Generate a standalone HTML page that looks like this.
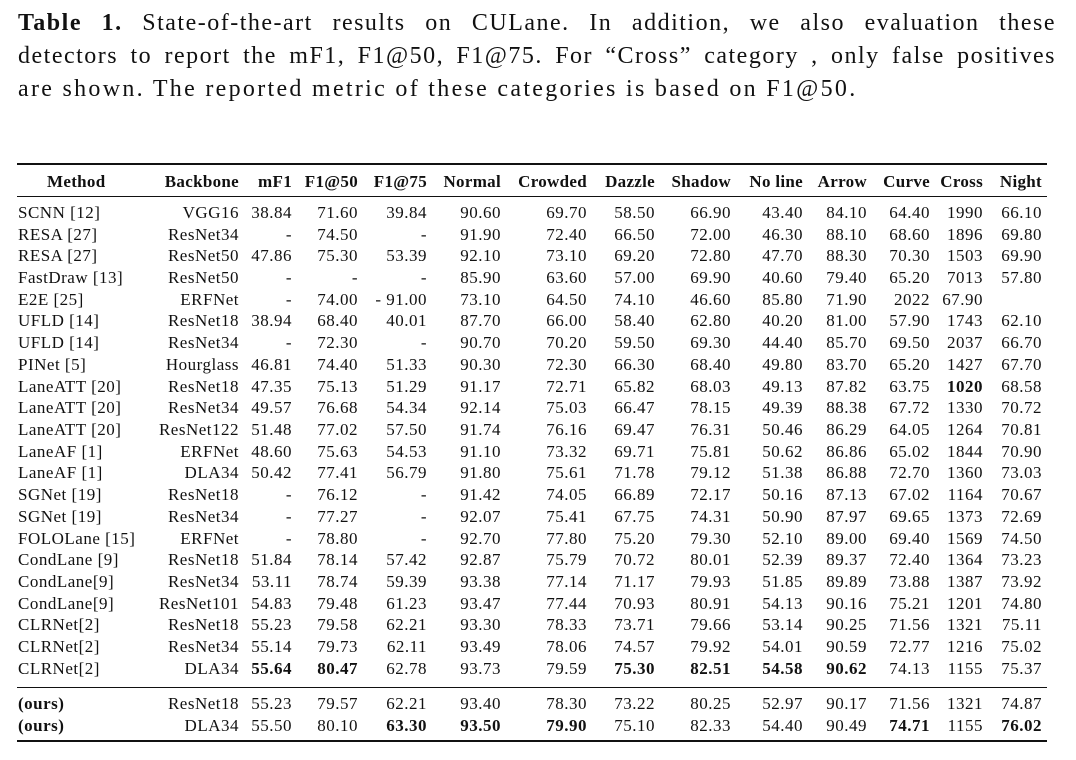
<!DOCTYPE html>
<html><head><meta charset="utf-8"><style>
body{margin:0;background:#fff;width:1076px;height:760px;position:relative;overflow:hidden;font-family:"Liberation Serif",serif;color:#111}
.cap{position:absolute;left:18px;width:1038px;font-size:24px;line-height:30px;letter-spacing:1.5px;text-align:justify;text-align-last:justify;white-space:nowrap}
.cap.l{text-align-last:left;letter-spacing:2.3px}
.rule{position:absolute;left:17px;width:1030px;background:#111}
.r{position:absolute;left:0;width:1076px;height:18px;font-size:17px;line-height:18px;letter-spacing:0.5px}
.r span{position:absolute;top:0;white-space:nowrap}
.m{left:18px}
.bb{right:837px}.mf{right:784px}.f5{right:718px}.f7{right:649px}.no{right:575px}.cr{right:489px}.da{right:421px}.sh{right:345px}.nl{right:273px}.ar{right:209px}.cu{right:146px}.cs{right:93px}.ni{right:34px}
.h{font-weight:bold;letter-spacing:0.3px}
.h .m{left:47px}
b{font-weight:bold}
</style></head><body>
<div class="cap" style="top:8px"><b>Table 1.</b> State-of-the-art results on CULane. In addition, we also evaluation these</div>
<div class="cap" style="top:41px">detectors to report the mF1, F1@50, F1@75. For “Cross” category , only false positives</div>
<div class="cap l" style="top:74px">are shown. The reported metric of these categories is based on F1@50.</div>

<div class="rule" style="top:163px;height:2px"></div>
<div class="r h" style="top:173px"><span class="m">Method</span><span class="bb">Backbone</span><span class="mf">mF1</span><span class="f5">F1@50</span><span class="f7">F1@75</span><span class="no">Normal</span><span class="cr">Crowded</span><span class="da">Dazzle</span><span class="sh">Shadow</span><span class="nl">No line</span><span class="ar">Arrow</span><span class="cu">Curve</span><span class="cs">Cross</span><span class="ni">Night</span></div>
<div class="rule" style="top:196px;height:1px"></div>

<div class="r" style="top:204px"><span class="m">SCNN [12]</span><span class="bb">VGG16</span><span class="mf">38.84</span><span class="f5">71.60</span><span class="f7">39.84</span><span class="no">90.60</span><span class="cr">69.70</span><span class="da">58.50</span><span class="sh">66.90</span><span class="nl">43.40</span><span class="ar">84.10</span><span class="cu">64.40</span><span class="cs">1990</span><span class="ni">66.10</span></div>
<div class="r" style="top:226px"><span class="m">RESA [27]</span><span class="bb">ResNet34</span><span class="mf">-</span><span class="f5">74.50</span><span class="f7">-</span><span class="no">91.90</span><span class="cr">72.40</span><span class="da">66.50</span><span class="sh">72.00</span><span class="nl">46.30</span><span class="ar">88.10</span><span class="cu">68.60</span><span class="cs">1896</span><span class="ni">69.80</span></div>
<div class="r" style="top:247px"><span class="m">RESA [27]</span><span class="bb">ResNet50</span><span class="mf">47.86</span><span class="f5">75.30</span><span class="f7">53.39</span><span class="no">92.10</span><span class="cr">73.10</span><span class="da">69.20</span><span class="sh">72.80</span><span class="nl">47.70</span><span class="ar">88.30</span><span class="cu">70.30</span><span class="cs">1503</span><span class="ni">69.90</span></div>
<div class="r" style="top:269px"><span class="m">FastDraw [13]</span><span class="bb">ResNet50</span><span class="mf">-</span><span class="f5">-</span><span class="f7">-</span><span class="no">85.90</span><span class="cr">63.60</span><span class="da">57.00</span><span class="sh">69.90</span><span class="nl">40.60</span><span class="ar">79.40</span><span class="cu">65.20</span><span class="cs">7013</span><span class="ni">57.80</span></div>
<div class="r" style="top:291px"><span class="m">E2E [25]</span><span class="bb">ERFNet</span><span class="mf">-</span><span class="f5">74.00</span><span class="f7">- 91.00</span><span class="no">73.10</span><span class="cr">64.50</span><span class="da">74.10</span><span class="sh">46.60</span><span class="nl">85.80</span><span class="ar">71.90</span><span class="cu">2022</span><span class="cs">67.90</span></div>
<div class="r" style="top:312px"><span class="m">UFLD [14]</span><span class="bb">ResNet18</span><span class="mf">38.94</span><span class="f5">68.40</span><span class="f7">40.01</span><span class="no">87.70</span><span class="cr">66.00</span><span class="da">58.40</span><span class="sh">62.80</span><span class="nl">40.20</span><span class="ar">81.00</span><span class="cu">57.90</span><span class="cs">1743</span><span class="ni">62.10</span></div>
<div class="r" style="top:334px"><span class="m">UFLD [14]</span><span class="bb">ResNet34</span><span class="mf">-</span><span class="f5">72.30</span><span class="f7">-</span><span class="no">90.70</span><span class="cr">70.20</span><span class="da">59.50</span><span class="sh">69.30</span><span class="nl">44.40</span><span class="ar">85.70</span><span class="cu">69.50</span><span class="cs">2037</span><span class="ni">66.70</span></div>
<div class="r" style="top:356px"><span class="m">PINet [5]</span><span class="bb">Hourglass</span><span class="mf">46.81</span><span class="f5">74.40</span><span class="f7">51.33</span><span class="no">90.30</span><span class="cr">72.30</span><span class="da">66.30</span><span class="sh">68.40</span><span class="nl">49.80</span><span class="ar">83.70</span><span class="cu">65.20</span><span class="cs">1427</span><span class="ni">67.70</span></div>
<div class="r" style="top:378px"><span class="m">LaneATT [20]</span><span class="bb">ResNet18</span><span class="mf">47.35</span><span class="f5">75.13</span><span class="f7">51.29</span><span class="no">91.17</span><span class="cr">72.71</span><span class="da">65.82</span><span class="sh">68.03</span><span class="nl">49.13</span><span class="ar">87.82</span><span class="cu">63.75</span><span class="cs"><b>1020</b></span><span class="ni">68.58</span></div>
<div class="r" style="top:399px"><span class="m">LaneATT [20]</span><span class="bb">ResNet34</span><span class="mf">49.57</span><span class="f5">76.68</span><span class="f7">54.34</span><span class="no">92.14</span><span class="cr">75.03</span><span class="da">66.47</span><span class="sh">78.15</span><span class="nl">49.39</span><span class="ar">88.38</span><span class="cu">67.72</span><span class="cs">1330</span><span class="ni">70.72</span></div>
<div class="r" style="top:421px"><span class="m">LaneATT [20]</span><span class="bb">ResNet122</span><span class="mf">51.48</span><span class="f5">77.02</span><span class="f7">57.50</span><span class="no">91.74</span><span class="cr">76.16</span><span class="da">69.47</span><span class="sh">76.31</span><span class="nl">50.46</span><span class="ar">86.29</span><span class="cu">64.05</span><span class="cs">1264</span><span class="ni">70.81</span></div>
<div class="r" style="top:443px"><span class="m">LaneAF [1]</span><span class="bb">ERFNet</span><span class="mf">48.60</span><span class="f5">75.63</span><span class="f7">54.53</span><span class="no">91.10</span><span class="cr">73.32</span><span class="da">69.71</span><span class="sh">75.81</span><span class="nl">50.62</span><span class="ar">86.86</span><span class="cu">65.02</span><span class="cs">1844</span><span class="ni">70.90</span></div>
<div class="r" style="top:464px"><span class="m">LaneAF [1]</span><span class="bb">DLA34</span><span class="mf">50.42</span><span class="f5">77.41</span><span class="f7">56.79</span><span class="no">91.80</span><span class="cr">75.61</span><span class="da">71.78</span><span class="sh">79.12</span><span class="nl">51.38</span><span class="ar">86.88</span><span class="cu">72.70</span><span class="cs">1360</span><span class="ni">73.03</span></div>
<div class="r" style="top:486px"><span class="m">SGNet [19]</span><span class="bb">ResNet18</span><span class="mf">-</span><span class="f5">76.12</span><span class="f7">-</span><span class="no">91.42</span><span class="cr">74.05</span><span class="da">66.89</span><span class="sh">72.17</span><span class="nl">50.16</span><span class="ar">87.13</span><span class="cu">67.02</span><span class="cs">1164</span><span class="ni">70.67</span></div>
<div class="r" style="top:508px"><span class="m">SGNet [19]</span><span class="bb">ResNet34</span><span class="mf">-</span><span class="f5">77.27</span><span class="f7">-</span><span class="no">92.07</span><span class="cr">75.41</span><span class="da">67.75</span><span class="sh">74.31</span><span class="nl">50.90</span><span class="ar">87.97</span><span class="cu">69.65</span><span class="cs">1373</span><span class="ni">72.69</span></div>
<div class="r" style="top:530px"><span class="m">FOLOLane [15]</span><span class="bb">ERFNet</span><span class="mf">-</span><span class="f5">78.80</span><span class="f7">-</span><span class="no">92.70</span><span class="cr">77.80</span><span class="da">75.20</span><span class="sh">79.30</span><span class="nl">52.10</span><span class="ar">89.00</span><span class="cu">69.40</span><span class="cs">1569</span><span class="ni">74.50</span></div>
<div class="r" style="top:551px"><span class="m">CondLane [9]</span><span class="bb">ResNet18</span><span class="mf">51.84</span><span class="f5">78.14</span><span class="f7">57.42</span><span class="no">92.87</span><span class="cr">75.79</span><span class="da">70.72</span><span class="sh">80.01</span><span class="nl">52.39</span><span class="ar">89.37</span><span class="cu">72.40</span><span class="cs">1364</span><span class="ni">73.23</span></div>
<div class="r" style="top:573px"><span class="m">CondLane[9]</span><span class="bb">ResNet34</span><span class="mf">53.11</span><span class="f5">78.74</span><span class="f7">59.39</span><span class="no">93.38</span><span class="cr">77.14</span><span class="da">71.17</span><span class="sh">79.93</span><span class="nl">51.85</span><span class="ar">89.89</span><span class="cu">73.88</span><span class="cs">1387</span><span class="ni">73.92</span></div>
<div class="r" style="top:595px"><span class="m">CondLane[9]</span><span class="bb">ResNet101</span><span class="mf">54.83</span><span class="f5">79.48</span><span class="f7">61.23</span><span class="no">93.47</span><span class="cr">77.44</span><span class="da">70.93</span><span class="sh">80.91</span><span class="nl">54.13</span><span class="ar">90.16</span><span class="cu">75.21</span><span class="cs">1201</span><span class="ni">74.80</span></div>
<div class="r" style="top:616px"><span class="m">CLRNet[2]</span><span class="bb">ResNet18</span><span class="mf">55.23</span><span class="f5">79.58</span><span class="f7">62.21</span><span class="no">93.30</span><span class="cr">78.33</span><span class="da">73.71</span><span class="sh">79.66</span><span class="nl">53.14</span><span class="ar">90.25</span><span class="cu">71.56</span><span class="cs">1321</span><span class="ni">75.11</span></div>
<div class="r" style="top:638px"><span class="m">CLRNet[2]</span><span class="bb">ResNet34</span><span class="mf">55.14</span><span class="f5">79.73</span><span class="f7">62.11</span><span class="no">93.49</span><span class="cr">78.06</span><span class="da">74.57</span><span class="sh">79.92</span><span class="nl">54.01</span><span class="ar">90.59</span><span class="cu">72.77</span><span class="cs">1216</span><span class="ni">75.02</span></div>
<div class="r" style="top:660px"><span class="m">CLRNet[2]</span><span class="bb">DLA34</span><span class="mf"><b>55.64</b></span><span class="f5"><b>80.47</b></span><span class="f7">62.78</span><span class="no">93.73</span><span class="cr">79.59</span><span class="da"><b>75.30</b></span><span class="sh"><b>82.51</b></span><span class="nl"><b>54.58</b></span><span class="ar"><b>90.62</b></span><span class="cu">74.13</span><span class="cs">1155</span><span class="ni">75.37</span></div>

<div class="rule" style="top:687px;height:1px"></div>

<div class="r" style="top:695px"><span class="m"><b>(ours)</b></span><span class="bb">ResNet18</span><span class="mf">55.23</span><span class="f5">79.57</span><span class="f7">62.21</span><span class="no">93.40</span><span class="cr">78.30</span><span class="da">73.22</span><span class="sh">80.25</span><span class="nl">52.97</span><span class="ar">90.17</span><span class="cu">71.56</span><span class="cs">1321</span><span class="ni">74.87</span></div>
<div class="r" style="top:717px"><span class="m"><b>(ours)</b></span><span class="bb">DLA34</span><span class="mf">55.50</span><span class="f5">80.10</span><span class="f7"><b>63.30</b></span><span class="no"><b>93.50</b></span><span class="cr"><b>79.90</b></span><span class="da">75.10</span><span class="sh">82.33</span><span class="nl">54.40</span><span class="ar">90.49</span><span class="cu"><b>74.71</b></span><span class="cs">1155</span><span class="ni"><b>76.02</b></span></div>

<div class="rule" style="top:740px;height:2px"></div>
</body></html>
